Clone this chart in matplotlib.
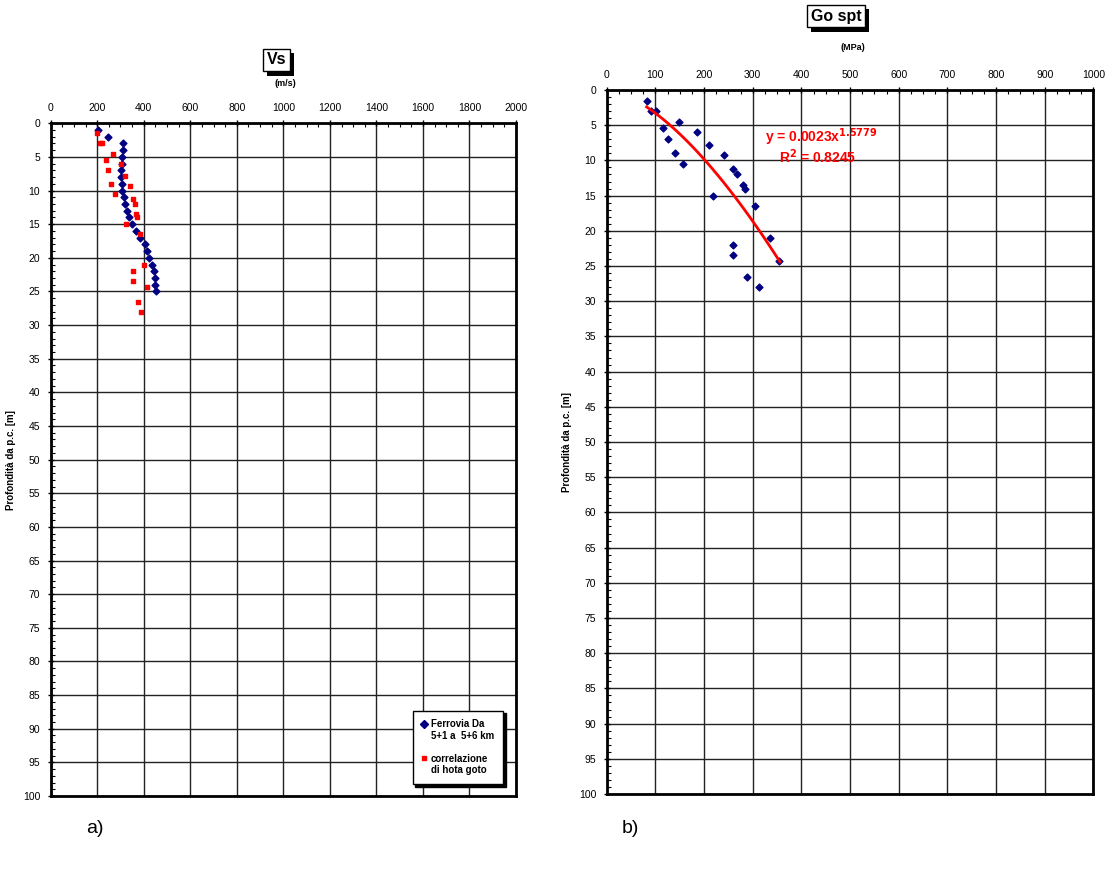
import numpy as np
import matplotlib
matplotlib.use("Agg")
import matplotlib.pyplot as plt
import matplotlib.patheffects as pe
from matplotlib.ticker import MultipleLocator
from matplotlib.lines import Line2D

plt.rcParams['font.family'] = ['Liberation Sans', 'DejaVu Sans']

# --- data: a) Vs profile ---
vs_depth = [1, 2, 3, 4, 5, 6, 7, 8, 9, 10, 11, 12, 13, 14, 15, 16, 17, 18, 19, 20, 21, 22, 23, 24, 25]
vs_ferrovia = [205, 248, 311, 311, 308, 308, 304, 304, 308, 308, 314, 321, 328, 338, 350,
               365, 384, 405, 415, 423, 435, 444, 448, 448, 451]

hg_depth = [1.5, 3.0, 3.0, 4.55, 5.45, 6.0, 7.0, 7.8, 9.0, 9.26, 10.5, 11.2, 12.0, 13.5, 14.0,
            15.0, 16.5, 21.0, 22.0, 23.5, 24.3, 26.5, 28.0]
vs_hotagoto = [200, 213, 222, 268, 236, 301, 245, 318, 259, 341, 275, 355, 361, 368, 371,
               325, 384, 403, 355, 355, 414, 374, 390]

# --- data: b) Go spt ---
go_depth = [1.5, 3.0, 3.0, 5.4, 4.5, 7.0, 6.0, 9.0, 7.8, 10.56, 9.23, 11.2, 12.0, 13.5, 14.0,
            15.0, 16.5, 21.0, 22.0, 23.5, 24.3, 26.5, 28.0]
go_spt = [83, 91, 101, 116, 148, 125, 185, 140, 210, 156, 241, 260, 268, 281, 285,
          219, 304, 335, 260, 260, 355, 288, 312]

# power trendline shown on the chart: y = a * x^b
trend_a = 0.0023
trend_b = 1.5779
trend_r2 = 0.8245

W, H = 1109, 871
fig = plt.figure(figsize=(W / 100, H / 100), dpi=100)


def px(x0, y0, x1, y1):
    return [x0 / W, 1 - y1 / H, (x1 - x0) / W, (y1 - y0) / H]


def style_axes(ax, xmax, xmaj, xmin):
    ax.set_xlim(0, xmax)
    ax.set_ylim(100, 0)
    ax.xaxis.tick_top()
    ax.xaxis.set_major_locator(MultipleLocator(xmaj))
    ax.xaxis.set_minor_locator(MultipleLocator(xmin))
    ax.yaxis.set_major_locator(MultipleLocator(5))
    ax.yaxis.set_minor_locator(MultipleLocator(1))
    ax.tick_params(which='major', direction='inout', length=5, width=1, labelsize=7.5, pad=5)
    ax.tick_params(which='minor', direction='in', length=3, width=0.8)
    ax.grid(True, which='major', color='#222222', linewidth=1)
    for s in ax.spines.values():
        s.set_linewidth(2)
        s.set_color('black')
    ax.set_ylabel('Profondità da p.c. [m]', fontsize=7, fontweight='bold', labelpad=5)
    ax.set_axisbelow(True)


def boxed_title(x, y, txt, size):
    t = fig.text(x, y, txt, ha='center', va='center', fontsize=size, fontweight='bold',
                 bbox=dict(boxstyle='square,pad=0.25', fc='white', ec='black', lw=1))
    t.get_bbox_patch().set_path_effects([
        pe.SimplePatchShadow(offset=(3, -3), shadow_rgbFace='black', alpha=1), pe.Normal()])


# ---- a) ----
ax1 = fig.add_axes(px(50.7, 123.3, 516, 796))
style_axes(ax1, 2000, 200, 50)
ax1.scatter(vs_ferrovia, vs_depth, marker='D', s=12, color='#000080', zorder=3)
ax1.scatter(vs_hotagoto, hg_depth, marker='s', s=12, color='#ff0000', zorder=3)

blank = Line2D([], [], linestyle='none', marker='none')
h1 = Line2D([], [], linestyle='none', marker='D', markersize=4, color='#000080')
h2 = Line2D([], [], linestyle='none', marker='s', markersize=3.5, color='#ff0000')
leg = ax1.legend([h1, blank, blank, h2, blank],
                 ['Ferrovia Da', '5+1 a  5+6 km', '', 'correlazione', 'di hota goto'],
                 loc='lower right', bbox_to_anchor=(503 / W, 1 - 784 / H), bbox_transform=fig.transFigure,
                 borderaxespad=0, fancybox=False, shadow={'color': 'black', 'alpha': 1},
                 edgecolor='black', framealpha=1, handlelength=0.5, handletextpad=0.5,
                 labelspacing=0.15, borderpad=0.9, prop={'size': 7, 'weight': 'bold'})
leg.get_frame().set_linewidth(1)

boxed_title(276.5 / W, 1 - 60 / H, 'Vs', 11.5)
fig.text(285 / W, 1 - 83 / H, '(m/s)', ha='center', va='center', fontsize=6.5, fontweight='bold')
fig.text(95 / W, 1 - 828 / H, 'a)', ha='center', va='center', fontsize=14)

# ---- b) ----
ax2 = fig.add_axes(px(606.7, 90, 1093.4, 794))
style_axes(ax2, 1000, 100, 25)
ax2.scatter(go_spt, go_depth, marker='D', s=12, color='#000080', zorder=3)
xs = np.linspace(min(go_spt) - 1, max(go_spt) + 1, 100)
ax2.plot(xs, trend_a * xs ** trend_b, color='#ff0000', lw=2, zorder=4)
ax2.text(765 / W, 1 - 137 / H, r'y = 0.0023x$^{\mathbf{1.5779}}$', transform=fig.transFigure,
         color='#ff0000', fontsize=10, fontweight='bold', va='center', ha='left')
ax2.text(779 / W, 1 - 157 / H, r'R$^{\mathbf{2}}$ = ' + f'{trend_r2:.4f}', transform=fig.transFigure,
         color='#ff0000', fontsize=10, fontweight='bold', va='center', ha='left')

boxed_title(836 / W, 1 - 16 / H, 'Go spt', 11.5)
fig.text(853 / W, 1 - 48 / H, '(MPa)', ha='center', va='center', fontsize=6.5, fontweight='bold')
fig.text(630 / W, 1 - 828 / H, 'b)', ha='center', va='center', fontsize=14)

fig.savefig('out.png', dpi=100)
